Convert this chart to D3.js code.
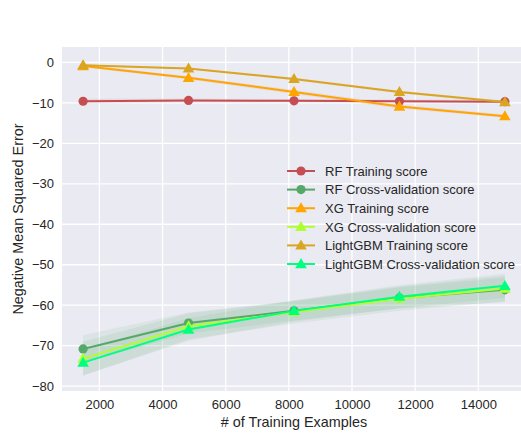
<!DOCTYPE html>
<html>
<head>
<meta charset="utf-8">
<script src="https://cdn.jsdelivr.net/npm/d3@7"></script>
<style>
  html, body { margin: 0; padding: 0; background: #fff; }
  svg { display: block; font-family: "Liberation Sans", Arial, sans-serif; }
</style>
</head>
<body>
<div id="chart"></div>
<script>
// Learning curves: negative MSE vs training set size
const trainSizes = [1484, 4823, 8163, 11502, 14842];
const xTicks = [2000, 4000, 6000, 8000, 10000, 12000, 14000];
const yTicks = [0, -10, -20, -30, -40, -50, -60, -70, -80];

const rfTrain = [-9.6, -9.4, -9.5, -9.6, -9.7];
const rfTrainStd = [0.6, 0.5, 0.4, 0.4, 0.4];
const rfCv = [-70.8, -64.4, -61.4, -58.2, -56.2];
const rfCvStd = [3.4, 2.6, 2.4, 2.6, 3.0];

const xgTrain = [-0.9, -3.8, -7.3, -10.9, -13.3];
const xgTrainStd = [0.3, 0.4, 0.5, 0.5, 0.4];
const xgCv = [-73.2, -65.2, -61.7, -58.4, -55.9];
const xgCvStd = [4.2, 3.2, 2.8, 3.0, 3.2];

const lgbTrain = [-0.7, -1.5, -4.1, -7.3, -9.8];
const lgbTrainStd = [0.2, 0.2, 0.3, 0.3, 0.3];
const lgbCv = [-74.2, -66.0, -61.4, -57.9, -55.2];
const lgbCvStd = [3.2, 2.8, 2.6, 2.8, 3.0];

const series = [
  { name: 'RF Training score', mean: rfTrain, std: rfTrainStd, color: '#c44e52', band: '#c44e52', marker: 'circle' },
  { name: 'RF Cross-validation score', mean: rfCv, std: rfCvStd, color: '#55a868', band: '#55a868', marker: 'circle' },
  { name: 'XG Training score', mean: xgTrain, std: xgTrainStd, color: '#ffa500', band: '#c44e52', marker: 'triangle' },
  { name: 'XG Cross-validation score', mean: xgCv, std: xgCvStd, color: '#adff2f', band: '#55a868', marker: 'triangle' },
  { name: 'LightGBM Training score', mean: lgbTrain, std: lgbTrainStd, color: '#daa520', band: '#c44e52', marker: 'triangle' },
  { name: 'LightGBM Cross-validation score', mean: lgbCv, std: lgbCvStd, color: '#00ff7f', band: '#55a868', marker: 'triangle' }
];

const W = 521, H = 433;
const plot = { left: 62, right: 526, top: 47, bottom: 391 };

const svg = d3.select('#chart').append('svg')
  .attr('width', W).attr('height', H);

const x = d3.scaleLinear().domain([816, 15510]).range([plot.left, plot.right]);
const y = d3.scaleLinear().domain([-81.2, 3.8]).range([plot.bottom, plot.top]);

svg.append('rect')
  .attr('x', plot.left).attr('y', plot.top)
  .attr('width', plot.right - plot.left).attr('height', plot.bottom - plot.top)
  .attr('fill', '#eaeaf2');

// Grid
svg.append('g')
  .selectAll('line').data(xTicks).enter().append('line')
  .attr('x1', d => x(d)).attr('x2', d => x(d))
  .attr('y1', plot.top).attr('y2', plot.bottom)
  .attr('stroke', '#fff').attr('stroke-width', 1.3);
svg.append('g')
  .selectAll('line').data(yTicks).enter().append('line')
  .attr('x1', plot.left).attr('x2', plot.right)
  .attr('y1', d => y(d)).attr('y2', d => y(d))
  .attr('stroke', '#fff').attr('stroke-width', 1.3);

// Axes (labels only, seaborn darkgrid style)
svg.append('g')
  .attr('transform', `translate(0,${plot.bottom})`)
  .call(d3.axisBottom(x).tickValues(xTicks).tickSize(0).tickPadding(9).tickFormat(d3.format('d')))
  .call(g => g.select('.domain').remove())
  .selectAll('text').style('font-size', '13px').attr('fill', '#262626');

svg.append('g')
  .attr('transform', `translate(${plot.left},0)`)
  .call(d3.axisLeft(y).tickValues(yTicks).tickSize(0).tickPadding(8))
  .call(g => g.select('.domain').remove())
  .selectAll('text').style('font-size', '13px').attr('fill', '#262626');

svg.append('text')
  .attr('x', (plot.left + plot.right) / 2).attr('y', 427)
  .attr('text-anchor', 'middle')
  .style('font-size', '14.4px').attr('fill', '#262626')
  .text('# of Training Examples');

svg.append('text')
  .attr('transform', `translate(23,${(plot.top + plot.bottom) / 2}) rotate(-90)`)
  .attr('text-anchor', 'middle')
  .style('font-size', '14.4px').attr('fill', '#262626')
  .text('Negative Mean Squared Error');

// Bands
const area = d3.area()
  .x((d, i) => x(trainSizes[i]))
  .y0(d => y(d[0] - d[1]))
  .y1(d => y(d[0] + d[1]));

const bands = svg.append('g');
series.forEach(s => {
  bands.append('path')
    .datum(s.mean.map((m, i) => [m, s.std[i]]))
    .attr('d', area)
    .attr('fill', s.band).attr('fill-opacity', 0.1);
});

const line = d3.line().x((d, i) => x(trainSizes[i])).y(d => y(d));
const tri = d3.symbol().type(d3.symbolTriangle).size(58);

function drawMarker(g, s, cx, cy) {
  if (s.marker === 'circle') {
    g.append('circle').attr('cx', cx).attr('cy', cy).attr('r', 4.6).attr('fill', s.color);
  } else {
    g.append('path').attr('d', tri).attr('transform', `translate(${cx},${cy + 0.8})`).attr('fill', s.color);
  }
}

series.forEach(s => {
  const g = svg.append('g');
  g.append('path').datum(s.mean).attr('d', line)
    .attr('fill', 'none').attr('stroke', s.color).attr('stroke-width', 2);
  s.mean.forEach((m, i) => drawMarker(g, s, x(trainSizes[i]), y(m)));
});

// Legend
const legend = svg.append('g');
series.forEach((s, i) => {
  const ly = 171 + i * 18.6;
  const g = legend.append('g');
  g.append('line').attr('x1', 287).attr('x2', 315).attr('y1', ly).attr('y2', ly)
    .attr('stroke', s.color).attr('stroke-width', 2);
  drawMarker(g, s, 301, ly);
  g.append('text').attr('x', 325).attr('y', ly + 4.7)
    .style('font-size', '13px').attr('fill', '#262626')
    .text(s.name);
});
</script>
</body>
</html>
